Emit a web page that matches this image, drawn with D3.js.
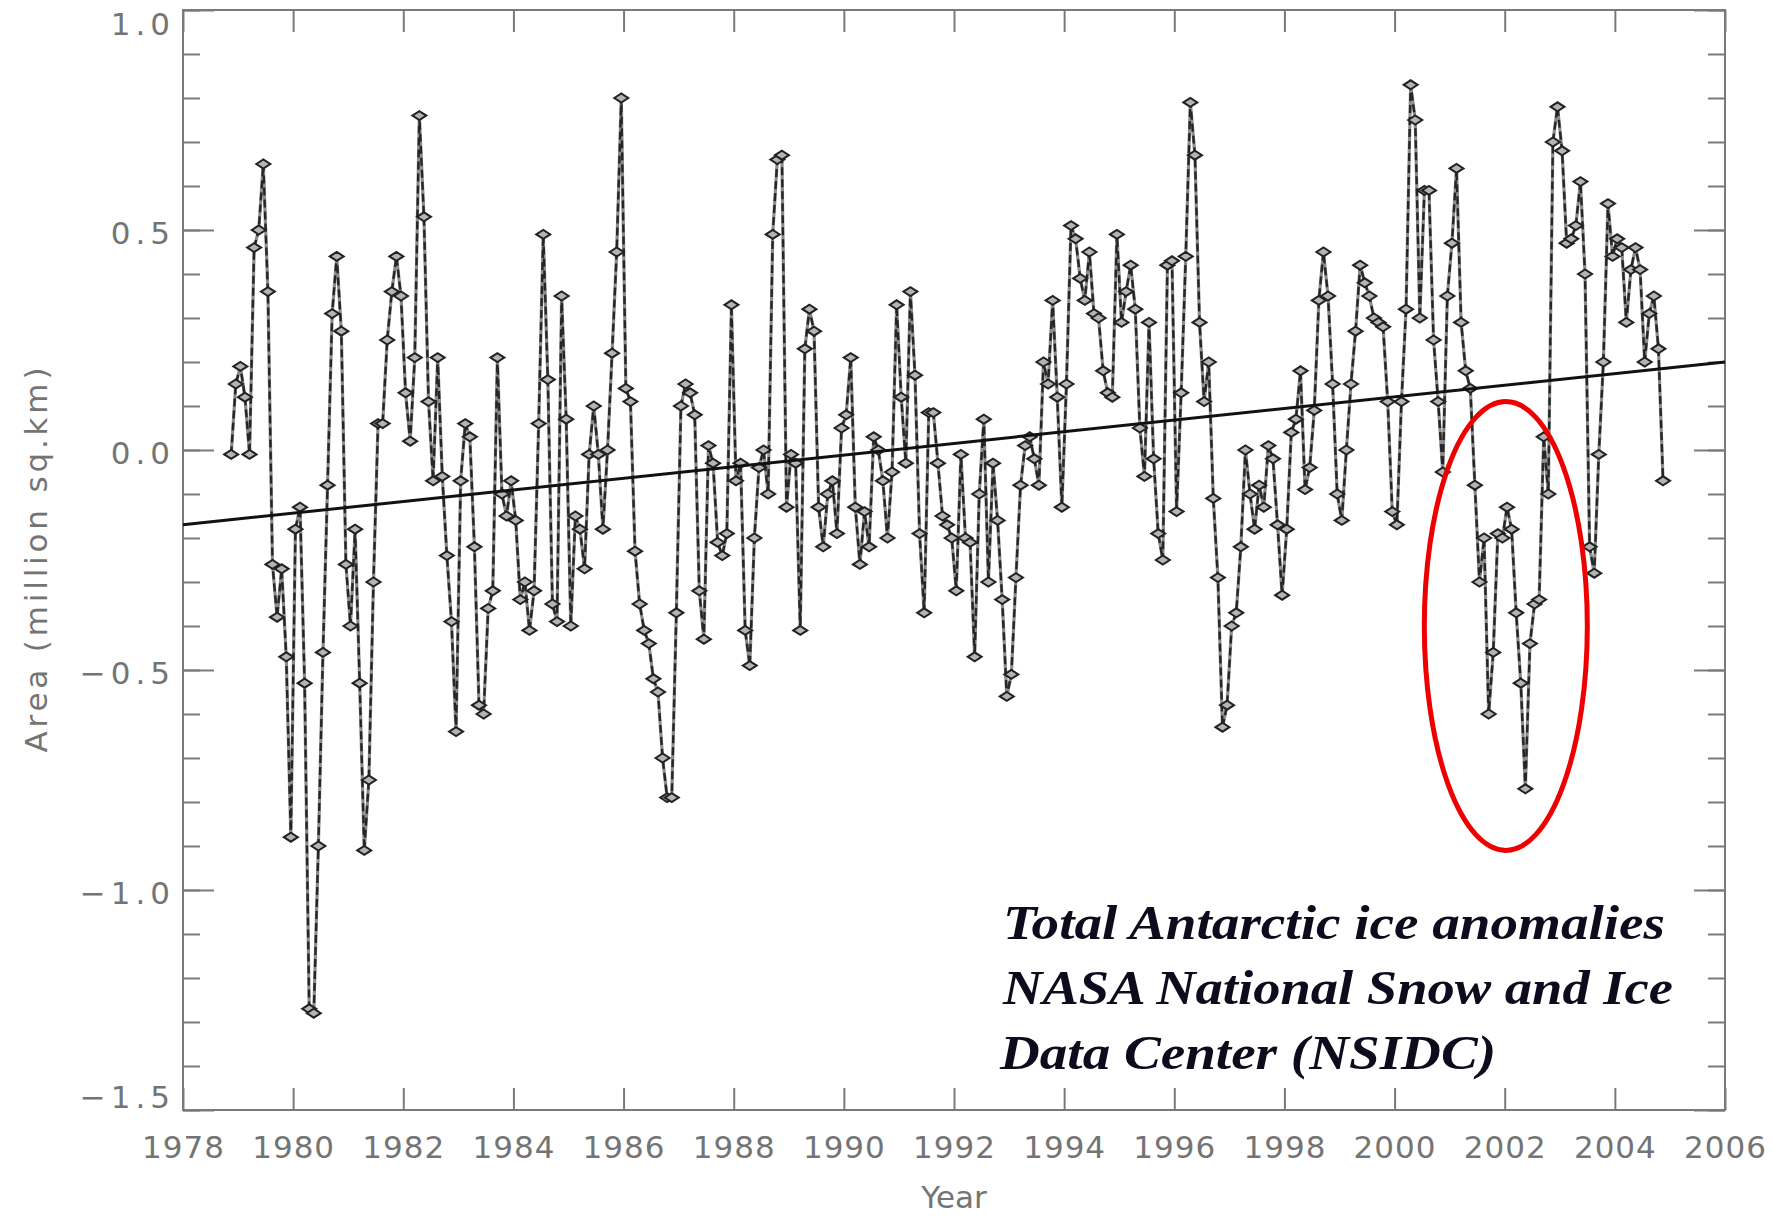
<!DOCTYPE html>
<html>
<head>
<meta charset="utf-8">
<script src="https://cdn.jsdelivr.net/npm/d3@7"></script>
<style>
  html, body { margin: 0; padding: 0; background: #fff; }
  svg { display: block; }
</style>
</head>
<body>
<svg id="chart" width="1791" height="1218"></svg>
<script>
// ---------------- DATA ----------------
// Monthly Antarctic sea-ice area anomalies (million sq. km), Nov 1978 .. Nov 2004
const startYear = 1978;
const startMonth = 10; // 0-based: November
const anomalies = [
  -0.01, 0.15,
  0.19, 0.12, -0.01, 0.46, 0.50, 0.65, 0.36, -0.26, -0.38, -0.27, -0.47, -0.88,   // 1979
  -0.18, -0.13, -0.53, -1.27, -1.28, -0.90, -0.46, -0.08, 0.31, 0.44, 0.27, -0.26, // 1980
  -0.40, -0.18, -0.53, -0.91, -0.75, -0.30, 0.06, 0.06, 0.25, 0.36, 0.44, 0.35,    // 1981
  0.13, 0.02, 0.21, 0.76, 0.53, 0.11, -0.07, 0.21, -0.06, -0.24, -0.39, -0.64,     // 1982
  -0.07, 0.06, 0.03, -0.22, -0.58, -0.60, -0.36, -0.32, 0.21, -0.10, -0.15, -0.07, // 1983
  -0.16, -0.34, -0.30, -0.41, -0.32, 0.06, 0.49, 0.16, -0.35, -0.39, 0.35, 0.07,   // 1984
  -0.40, -0.15, -0.18, -0.27, -0.01, 0.10, -0.01, -0.18, 0.00, 0.22, 0.45, 0.80,   // 1985
  0.14, 0.11, -0.23, -0.35, -0.41, -0.44, -0.52, -0.55, -0.70, -0.79, -0.79, -0.37, // 1986
  0.10, 0.15, 0.13, 0.08, -0.32, -0.43, 0.01, -0.03, -0.21, -0.24, -0.19, 0.33,    // 1987
  -0.07, -0.03, -0.41, -0.49, -0.20, -0.04, 0.00, -0.10, 0.49, 0.66, 0.67, -0.13,  // 1988
  -0.01, -0.03, -0.41, 0.23, 0.32, 0.27, -0.13, -0.22, -0.10, -0.07, -0.19, 0.05,  // 1989
  0.08, 0.21, -0.13, -0.26, -0.14, -0.22, 0.03, 0.00, -0.07, -0.20, -0.05, 0.33,   // 1990
  0.12, -0.03, 0.36, 0.17, -0.19, -0.37, 0.085, 0.085, -0.03, -0.15, -0.17, -0.20, // 1991
  -0.32, -0.01, -0.20, -0.21, -0.47, -0.10, 0.07, -0.30, -0.03, -0.16, -0.34, -0.56, // 1992
  -0.51, -0.29, -0.08, 0.01, 0.03, -0.02, -0.08, 0.20, 0.15, 0.34, 0.12, -0.13,    // 1993
  0.15, 0.51, 0.48, 0.39, 0.34, 0.45, 0.31, 0.30, 0.18, 0.13, 0.12, 0.49,          // 1994
  0.29, 0.36, 0.42, 0.32, 0.05, -0.06, 0.29, -0.02, -0.19, -0.25, 0.42, 0.43,      // 1995
  -0.14, 0.13, 0.44, 0.79, 0.67, 0.29, 0.11, 0.20, -0.11, -0.29, -0.63, -0.58,     // 1996
  -0.40, -0.37, -0.22, 0.00, -0.10, -0.18, -0.08, -0.13, 0.01, -0.02, -0.17, -0.33, // 1997
  -0.18, 0.04, 0.07, 0.18, -0.09, -0.04, 0.09, 0.34, 0.45, 0.35, 0.15, -0.10,      // 1998
  -0.16, 0.00, 0.15, 0.27, 0.42, 0.38, 0.35, 0.30, 0.29, 0.28, 0.11, -0.14,        // 1999
  -0.17, 0.11, 0.32, 0.83, 0.75, 0.30, 0.59, 0.59, 0.25, 0.11, -0.05, 0.35,        // 2000
  0.47, 0.64, 0.29, 0.18, 0.14, -0.08, -0.30, -0.20, -0.60, -0.46, -0.19, -0.20,   // 2001
  -0.13, -0.18, -0.37, -0.53, -0.77, -0.44, -0.35, -0.34, 0.03, -0.10, 0.70, 0.78, // 2002
  0.68, 0.47, 0.48, 0.51, 0.61, 0.40, -0.22, -0.28, -0.01, 0.20, 0.56, 0.44,       // 2003
  0.48, 0.46, 0.29, 0.41, 0.46, 0.41, 0.20, 0.31, 0.35, 0.23, -0.07               // 2004
];

// Linear trend line (end points)
const trendYears = [1978, 2006];
const trendValues = [-0.17, 0.20];

// Highlight ellipse (centre year/value and radii)
const highlightCenter = [2002.02, -0.40];
const highlightRadius = [1.48, 0.51];

// Axis ticks
const xMajorTicks = [1978, 1980, 1982, 1984, 1986, 1988, 1990, 1992, 1994, 1996, 1998, 2000, 2002, 2004, 2006];
const yMajorTicks = [-1.5, -1.0, -0.5, 0.0, 0.5, 1.0];
const yMinorTicks = d3.range(-15, 11).map(d => d / 10);

const noteLines = ["Total Antarctic ice anomalies", "NASA National Snow and Ice", "Data Center (NSIDC)"];
const xTitle = "Year";
const yTitle = "Area (million sq.km)";

// ---------------- LAYOUT ----------------
const svg = d3.select("#chart");
const L = 183, R = 1725, T = 10, B = 1110;
const axisColor = "#7a7a7a";
const textColor = "#747474";
const labelFont = "'DejaVu Sans', sans-serif";

const x = d3.scaleLinear().domain([1978, 2006]).range([L, R]);
const y = d3.scaleLinear().domain([-1.5, 1.0]).range([B, T]);

const points = anomalies.map((v, i) => ({
  t: startYear + (startMonth + i + 0.5) / 12,
  v: v
}));

// Frame
svg.append("rect")
  .attr("x", L).attr("y", T).attr("width", R - L).attr("height", B - T)
  .attr("fill", "none").attr("stroke", axisColor).attr("stroke-width", 2);

function styleAxis(g, withText) {
  g.select(".domain").remove();
  g.selectAll(".tick line").attr("stroke", axisColor).attr("stroke-width", 2);
  if (withText) {
    g.selectAll(".tick text")
      .attr("fill", textColor)
      .attr("font-family", labelFont)
      .attr("font-size", 31);
  } else {
    g.selectAll(".tick text").remove();
  }
}

// Bottom axis (labels) and top mirror ticks
const gx = svg.append("g").attr("transform", `translate(0,${B})`)
  .call(d3.axisBottom(x).tickValues(xMajorTicks).tickFormat(d3.format("d")).tickSize(-22).tickPadding(26));
styleAxis(gx, true);
gx.selectAll(".tick text").attr("letter-spacing", 1);
const gxTop = svg.append("g").attr("transform", `translate(0,${T})`)
  .call(d3.axisTop(x).tickValues(xMajorTicks).tickSize(-22));
styleAxis(gxTop, false);

// Left axis: minor + major, right mirror
const gyMinor = svg.append("g").attr("transform", `translate(${L},0)`)
  .call(d3.axisLeft(y).tickValues(yMinorTicks).tickSize(-17));
styleAxis(gyMinor, false);
const gy = svg.append("g").attr("transform", `translate(${L},0)`)
  .call(d3.axisLeft(y).tickValues(yMajorTicks).tickFormat(d3.format(".1f")).tickSize(-31).tickPadding(8));
styleAxis(gy, true);
// keep end labels inside the frame height like the original
gy.selectAll(".tick text")
  .attr("letter-spacing", 5)
  .attr("y", d => d === 1.0 ? 15 : (d === -1.5 ? -12 : 4));

const gyRMinor = svg.append("g").attr("transform", `translate(${R},0)`)
  .call(d3.axisRight(y).tickValues(yMinorTicks).tickSize(-17));
styleAxis(gyRMinor, false);
const gyR = svg.append("g").attr("transform", `translate(${R},0)`)
  .call(d3.axisRight(y).tickValues(yMajorTicks).tickSize(-31));
styleAxis(gyR, false);

// Axis titles
svg.append("text")
  .attr("x", (L + R) / 2).attr("y", 1208)
  .attr("text-anchor", "middle")
  .attr("fill", textColor).attr("font-family", labelFont).attr("font-size", 31)
  .text(xTitle);
svg.append("text")
  .attr("transform", `translate(47,${(T + B) / 2}) rotate(-90)`)
  .attr("text-anchor", "middle")
  .attr("fill", textColor).attr("font-family", labelFont).attr("font-size", 31)
  .attr("textLength", 385).attr("lengthAdjust", "spacing")
  .text(yTitle);

// Data line
const line = d3.line().x(d => x(d.t)).y(d => y(d.v));
const plot = svg.append("g");
plot.append("path").datum(points).attr("d", line)
  .attr("fill", "none").attr("stroke", "#8c8c8c").attr("stroke-width", 3.2);
plot.append("path").datum(points).attr("d", line)
  .attr("fill", "none").attr("stroke", "#262626").attr("stroke-width", 2.4)
  .attr("stroke-dasharray", "8,4");

// Diamond markers
const dw = 7, dh = 4.5;
plot.selectAll("path.mk").data(points).enter().append("path")
  .attr("class", "mk")
  .attr("d", d => {
    const cx = x(d.t), cy = y(d.v);
    return `M${cx - dw},${cy}L${cx},${cy - dh}L${cx + dw},${cy}L${cx},${cy + dh}Z`;
  })
  .attr("fill", "#b4b4b4").attr("stroke", "#222").attr("stroke-width", 2);

// Trend line
svg.append("line")
  .attr("x1", x(trendYears[0])).attr("y1", y(trendValues[0]))
  .attr("x2", x(trendYears[1])).attr("y2", y(trendValues[1]))
  .attr("stroke", "#111").attr("stroke-width", 3);

// Red ellipse
svg.append("ellipse")
  .attr("cx", x(highlightCenter[0])).attr("cy", y(highlightCenter[1]))
  .attr("rx", x(highlightCenter[0] + highlightRadius[0]) - x(highlightCenter[0]))
  .attr("ry", y(highlightCenter[1] - highlightRadius[1]) - y(highlightCenter[1]))
  .attr("fill", "none").attr("stroke", "#ee0000").attr("stroke-width", 5);

// Annotation
const noteWidths = [662, 670, 496];
const note = svg.append("g");
noteLines.forEach((s, i) => {
  note.append("text")
    .attr("x", 1003 - (i === 2 ? 3 : 0)).attr("y", 939 + i * 65)
    .attr("font-family", "'Liberation Serif', 'Times New Roman', serif")
    .attr("font-style", "italic").attr("font-weight", "bold")
    .attr("font-size", 48).attr("fill", "#0c0c1c")
    .attr("textLength", noteWidths[i]).attr("lengthAdjust", "spacingAndGlyphs")
    .text(s);
});
</script>
</body>
</html>
